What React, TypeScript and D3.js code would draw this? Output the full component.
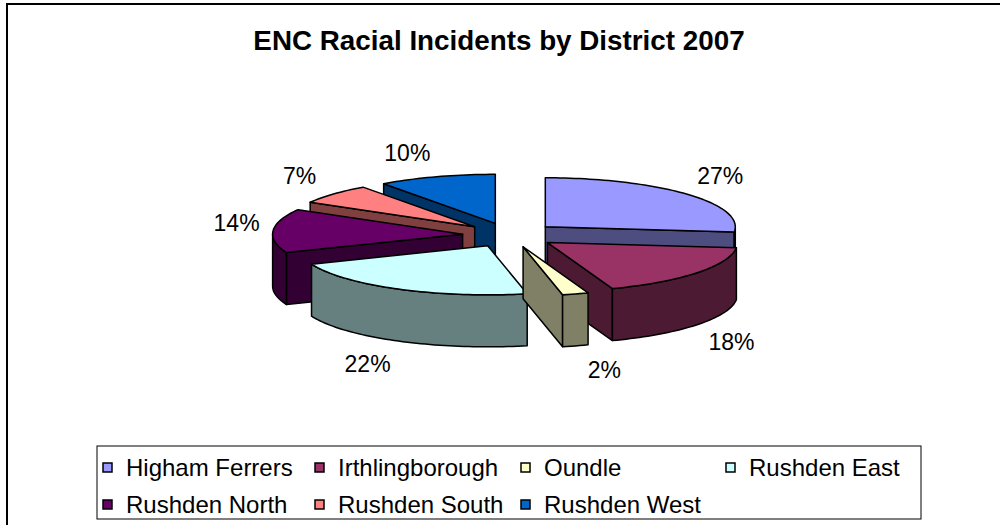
import React from "react";
import * as d3 from "d3";

const categories = [
  "Higham Ferrers",
  "Irthlingborough",
  "Oundle",
  "Rushden East",
  "Rushden North",
  "Rushden South",
  "Rushden West",
];
const values = [24, 16, 2, 20, 13, 6, 9];
const topColors = ["#9999FF", "#993366", "#FFFFCC", "#CCFFFF", "#660066", "#FF8080", "#0066CC"];
const title = "ENC Racial Incidents by District 2007";

const W = 1000;
const H = 525;
const FONT = "'Liberation Sans', Arial, Helvetica, sans-serif";

const cx = 510;
const cy = 235;
const rx = 190;
const ry = 49;
const depth = 52;
const explode = 0.25;

function shade(c: string, k: number) {
  const col = d3.rgb(c);
  return d3.rgb(col.r * k, col.g * k, col.b * k).formatHex();
}

type Pt = [number, number];

export default function App() {
  const total = d3.sum(values);
  const arcs = d3
    .pie<number>()
    .sort(null)
    .startAngle(0)
    .endAngle(2 * Math.PI)(values);

  const line = d3.line<Pt>().x((d) => d[0]).y((d) => d[1]);

  const slices = arcs.map((a, i) => {
    const mid = (a.startAngle + a.endAngle) / 2;
    const ox = explode * rx * Math.sin(mid);
    const oy = -explode * ry * Math.cos(mid);
    const rim = (t: number, dz = 0): Pt => [
      cx + ox + rx * Math.sin(t),
      cy + oy - ry * Math.cos(t) + dz,
    ];
    const apex = (dz = 0): Pt => [cx + ox, cy + oy + dz];
    const arcPts = (t0: number, t1: number, dz = 0): Pt[] => {
      const n = Math.max(2, Math.ceil(((t1 - t0) / Math.PI) * 120));
      return d3.range(n + 1).map((k) => rim(t0 + ((t1 - t0) * k) / n, dz));
    };
    const top = line([apex(), ...arcPts(a.startAngle, a.endAngle)]) + "Z";
    const faces: string[] = [];
    if (Math.sin(a.startAngle) < -1e-6) {
      const t = a.startAngle;
      faces.push(line([apex(), rim(t), rim(t, depth), apex(depth)]) + "Z");
    }
    if (Math.sin(a.endAngle) > 1e-6) {
      const t = a.endAngle;
      faces.push(line([apex(), rim(t), rim(t, depth), apex(depth)]) + "Z");
    }
    const w0 = Math.max(a.startAngle, Math.PI / 2);
    const w1 = Math.min(a.endAngle, (3 * Math.PI) / 2);
    let wall: string | null = null;
    if (w1 > w0) {
      const upper = arcPts(w0, w1);
      const lower = arcPts(w0, w1, depth).reverse();
      wall = line([...upper, ...lower]) + "Z";
    }
    const s = Math.sin(mid);
    const c = -Math.cos(mid);
    const lx = cx + 248 * s + Math.sign(s) * 26;
    const ly = cy + depth / 2 + 80 * c + Math.sign(c) * 32;
    return {
      i,
      front: c,
      top,
      faces,
      wall,
      color: topColors[i],
      side: shade(topColors[i], 0.5),
      label: `${Math.round((a.data / total) * 100)}%`,
      lx,
      ly,
    };
  });

  const order = [...slices].sort((p, q) => p.front - q.front);

  const legendCols = [103, 315, 521, 726];
  const legendRows = [468, 505];

  return (
    <svg
      width={W}
      height={H}
      viewBox={`0 0 ${W} ${H}`}
      style={{ position: "absolute", left: 0, top: 0, background: "#fff" }}
    >
      <rect x={0} y={0} width={W} height={H} fill="#fff" />
      <path d={`M7,${H + 5} L7,4 L${W + 5},4`} fill="none" stroke="#000" strokeWidth={2} />
      <text
        x={499}
        y={50}
        textAnchor="middle"
        fontFamily={FONT}
        fontWeight="bold"
        fontSize={27.8}
        fill="#000"
      >
        {title}
      </text>

      <g stroke="#000" strokeWidth={1.5} strokeLinejoin="round">
        {order.map((sl) => (
          <g key={sl.i}>
            {sl.faces.map((f, k) => (
              <path key={k} d={f} fill={sl.side} />
            ))}
            {sl.wall && <path d={sl.wall} fill={sl.side} />}
            <path d={sl.top} fill={sl.color} />
          </g>
        ))}
      </g>

      <g fontFamily={FONT} fontSize={23} fill="#000">
        {slices.map((sl) => (
          <text key={sl.i} x={sl.lx} y={sl.ly} dy="0.35em" textAnchor="middle">
            {sl.label}
          </text>
        ))}
      </g>

      <rect x={97} y={446} width={824} height={73} fill="#fff" stroke="#000" strokeWidth={1} />
      <g fontFamily={FONT} fontSize={24} fill="#000">
        {categories.map((name, i) => {
          const x = legendCols[i % 4];
          const y = legendRows[Math.floor(i / 4)];
          return (
            <g key={name}>
              <rect
                x={x}
                y={y - 5}
                width={9}
                height={9}
                fill={topColors[i]}
                stroke="#000"
                strokeWidth={1.5}
              />
              <text x={x + 23} y={y} dy="0.35em">
                {name}
              </text>
            </g>
          );
        })}
      </g>
    </svg>
  );
}
